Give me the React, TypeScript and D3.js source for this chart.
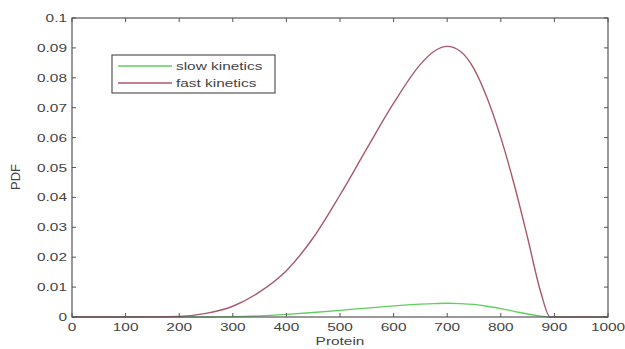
import React from "react";
import * as d3 from "d3";

const proteinX = [0, 100, 200, 250, 300, 350, 400, 450, 500, 550, 600, 650, 675, 700, 725, 750, 775, 800, 825, 850, 875, 892, 1000];
const fastKinetics = [0, 0, 0.0002, 0.0012, 0.0036, 0.0084, 0.0155, 0.0265, 0.0408, 0.0563, 0.0715, 0.0845, 0.0888, 0.0905, 0.0888, 0.083, 0.073, 0.06, 0.0443, 0.0265, 0.008, 0, 0];
const slowKinetics = [0, 0, 0, 0, 0.0001, 0.0004, 0.0009, 0.0015, 0.0022, 0.003, 0.0037, 0.0043, 0.0045, 0.0046, 0.0045, 0.0042, 0.0036, 0.0028, 0.0019, 0.001, 0.0003, 0, 0];
const xTicks = [0, 100, 200, 300, 400, 500, 600, 700, 800, 900, 1000];
const yTicks = [0, 0.01, 0.02, 0.03, 0.04, 0.05, 0.06, 0.07, 0.08, 0.09, 0.1];
const yTickLabels = ["0", "0.01", "0.02", "0.03", "0.04", "0.05", "0.06", "0.07", "0.08", "0.09", "0.1"];
const seriesNames = ["slow kinetics", "fast kinetics"];

const W = 625, H = 349;
const L = 72, R = 608, T = 18, B = 317;
const AX = "#555";
const TXT = "#444";
const RED = "#a85a6a";
const GREEN = "#5fcf5f";
const SX = 1.4;

function T2({ x, y, anchor, children, size = 11 }: any) {
  return (
    <g transform={`translate(${x},${y}) scale(${SX},1)`}>
      <text x={0} y={0} textAnchor={anchor} fontFamily="Liberation Sans, Arial, sans-serif" fontSize={size} fill={TXT}>
        {children}
      </text>
    </g>
  );
}

export default function App() {
  const x = d3.scaleLinear().domain([0, 1000]).range([L, R]);
  const y = d3.scaleLinear().domain([0, 0.1]).range([B, T]);
  const line = d3
    .line<number>()
    .x((_, i) => x(proteinX[i]))
    .y((d) => y(d))
    .curve(d3.curveMonotoneX);

  return (
    <svg width={W} height={H} style={{ position: "absolute", left: 0, top: 0, background: "#fff" }}>
      <rect x={0} y={0} width={W} height={H} fill="#fff" />
      <path d={line(slowKinetics) || ""} fill="none" stroke={GREEN} strokeWidth={1.3} />
      <path d={line(fastKinetics) || ""} fill="none" stroke={RED} strokeWidth={1.4} />
      <rect x={L} y={T} width={R - L} height={B - T} fill="none" stroke={AX} strokeWidth={1.2} />
      {xTicks.map((t) => (
        <g key={"xt" + t}>
          <line x1={x(t)} x2={x(t)} y1={B} y2={B - 4} stroke={AX} />
          <line x1={x(t)} x2={x(t)} y1={T} y2={T + 4} stroke={AX} />
          <T2 x={x(t)} y={331} anchor="middle">{String(t)}</T2>
        </g>
      ))}
      {yTicks.map((t, i) => (
        <g key={"yt" + t}>
          <line x1={L} x2={L + 4} y1={y(t)} y2={y(t)} stroke={AX} />
          <line x1={R} x2={R - 4} y1={y(t)} y2={y(t)} stroke={AX} />
          <T2 x={67} y={y(t) + 4} anchor="end">{yTickLabels[i]}</T2>
        </g>
      ))}
      <T2 x={340} y={345} anchor="middle">Protein</T2>
      <g transform="translate(20,177) rotate(-90)">
        <text x={0} y={0} textAnchor="middle" fontFamily="Liberation Sans, Arial, sans-serif" fontSize={13} fill={TXT}>
          PDF
        </text>
      </g>
      <rect x={112} y={55} width={163} height={38} fill="#fff" stroke={AX} strokeWidth={1.2} />
      {seriesNames.map((n, i) => (
        <g key={n}>
          <line x1={118} x2={172} y1={66 + i * 17} y2={66 + i * 17} stroke={i === 0 ? GREEN : RED} strokeWidth={1.3} />
          <T2 x={176} y={70 + i * 17} anchor="start">{n}</T2>
        </g>
      ))}
    </svg>
  );
}
